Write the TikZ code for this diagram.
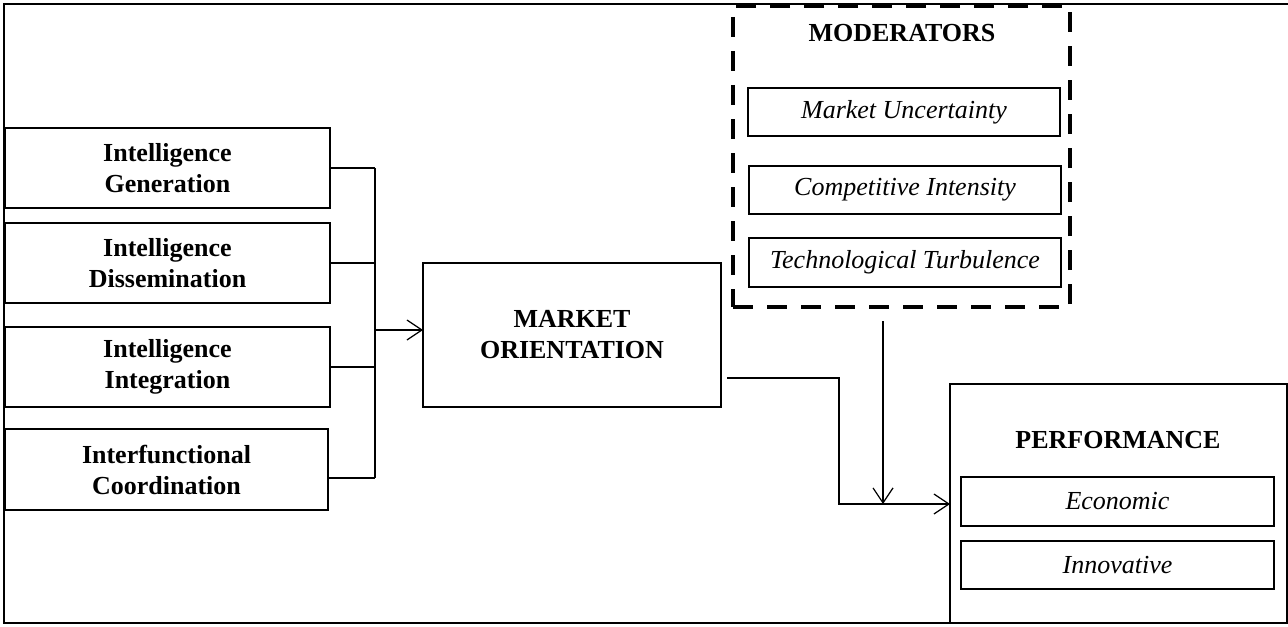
\documentclass[tikz,border=0pt]{standalone}
\usepackage{fontspec}
\setmainfont{Liberation Serif}
\usetikzlibrary{arrows.meta}
\begin{document}
\begin{tikzpicture}[x=0.5pt,y=-0.5pt,
  every node/.style={inner sep=0pt,outer sep=0pt},
  dimbox/.style={draw,line width=1pt,align=center,font=\fontsize{13}{15.5}\selectfont\bfseries},
  subbox/.style={draw,line width=1pt,font=\fontsize{13}{15.5}\selectfont\itshape},
  title/.style={font=\fontsize{13}{15.5}\selectfont\bfseries},
  modbox/.style={draw,line width=2pt,dash pattern=on 10pt off 7pt},
  frameline/.style={line width=1.2pt},
  conn/.style={line width=0.6pt},
  arr/.style={conn,-{Straight Barb[length=7.5pt,width=10pt,line width=0.6pt]}}
]
\useasboundingbox (0,0) rectangle (1288,626);
% outer frame (open on the right)
\draw[frameline] (1288,4) -- (4,4) -- (4,623) -- (950,623);

% left dimension boxes
\node[dimbox,minimum width=162.5pt,minimum height=40pt] (b1) at (167.5,168) {Intelligence\\Generation};
\node[dimbox,minimum width=162.5pt,minimum height=40pt] (b2) at (167.5,263) {Intelligence\\Dissemination};
\node[dimbox,minimum width=162.5pt,minimum height=40pt] (b3) at (167.5,367) {Intelligence\\Integration};
\node[dimbox,minimum width=161.5pt,minimum height=40.5pt] (b4) at (166.5,469.5) {Interfunctional\\Coordination};

% market orientation
\node[dimbox,minimum width=149pt,minimum height=72pt] (mo) at (572,335) {MARKET\\ORIENTATION};

% moderators
\node[modbox,minimum width=168.5pt,minimum height=150.5pt] (mod) at (901.5,156.5) {};
\node[title] (modt) at (902,33) {MODERATORS};
\node[subbox,minimum width=156pt,minimum height=24pt] (mu) at (904,112) {Market Uncertainty};
\node[subbox,minimum width=156pt,minimum height=24pt] (ci) at (905,190) {Competitive Intensity};
\node[subbox,minimum width=156pt,minimum height=24.5pt] (tt) at (905,262.5) {Technological Turbulence};

% performance
\node[draw,line width=1pt,minimum width=168.5pt,minimum height=119.5pt] (perf) at (1118.5,503.5) {};
\node[title] (perft) at (1118,440) {PERFORMANCE};
\node[subbox,minimum width=156.5pt,minimum height=24.5pt] (eco) at (1117.5,501.5) {Economic};
\node[subbox,minimum width=156.5pt,minimum height=24pt] (inn) at (1117.5,565) {Innovative};

% connectors
\coordinate (bt) at (375,168);
\coordinate (bm) at (375,330);
\coordinate (b4o) at ([yshift=-4.25pt]b4.east);
\draw[conn] (b1.east) -- (b1.east -| bt);
\draw[conn] (b2.east) -- (b2.east -| bt);
\draw[conn] (b3.east) -- (b3.east -| bt);
\draw[conn] (b4o) -- (b4o -| bt);
\draw[conn] (b1.east -| bt) -- (b4o -| bt);
\draw[arr] (bm) -- (bm -| mo.west);

\coordinate (mos) at (727,378);
\coordinate (elb) at (839,504);
\draw[arr] (mos) -| (elb) -- (elb -| perf.west);

\coordinate (ms) at (883,321);
\draw[arr] (ms) -- (ms |- elb);
\end{tikzpicture}
\end{document}
